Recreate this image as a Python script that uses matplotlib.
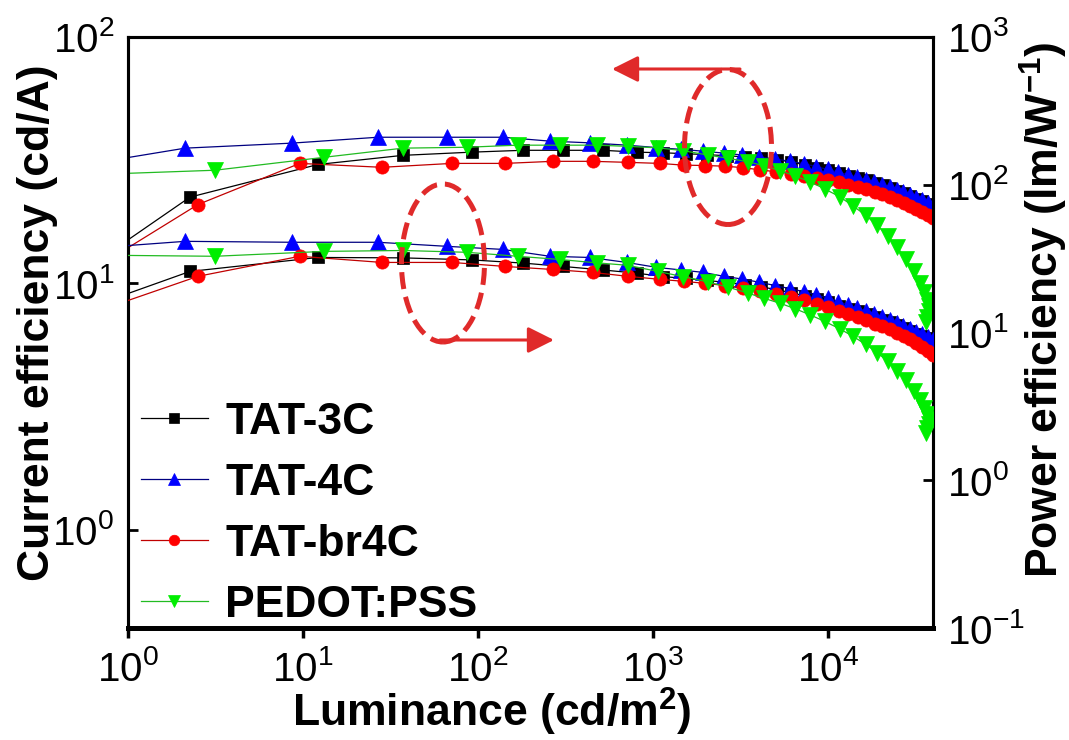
"""
Current / power efficiency vs luminance for the four hole-transport layers.

Outputs:
  out.png
"""

import matplotlib
matplotlib.use("Agg")
import matplotlib.pyplot as plt
from matplotlib.patches import Ellipse, FancyArrowPatch

plt.rcParams["font.family"] = ["Liberation Sans", "DejaVu Sans"]
plt.rcParams["mathtext.fontset"] = "custom"
plt.rcParams["mathtext.rm"] = "Liberation Sans"
plt.rcParams["mathtext.bf"] = "Liberation Sans:bold"

# ---- data -----------------------------------------------------------------
LABELS = ["TAT-3C", "TAT-4C", "TAT-br4C", "PEDOT:PSS"]

# TAT-3C
L_3C = [0.5, 2.26, 12.2, 37.3, 92, 181, 306, 518, 811, 1150, 1550, 2050, 2650, 3350,
        4150, 5100, 6200, 7400, 8700, 10100, 11600, 13200, 14900, 16700, 18600, 20600,
        22700, 24900, 27200, 29600, 32100, 34700, 37400, 40200]
CE_3C = [10.7, 22.4, 30.4, 33.1, 34.1, 34.7, 34.7, 34.7, 34.1, 33.9, 33.6, 33.3, 33.0, 32.6,
         32.2, 31.8, 31.1, 30.3, 29.5, 28.8, 28.1, 27.4, 26.8, 26.2, 25.6, 25.0,
         24.4, 23.8, 23.2, 22.7, 22.1, 21.6, 21.1, 20.6]
PE_3C = [13.7, 25.9, 32.2, 32.0, 31.0, 29.5, 28.0, 26.5, 25.2, 23.9, 23.2, 22.5, 21.8, 21.1,
         20.4, 19.5, 18.6, 17.7, 16.8, 16.0, 15.2, 14.5, 13.9, 13.3, 12.8, 12.2,
         11.7, 11.2, 10.7, 10.2, 9.8, 9.4, 9.0, 8.6]

# TAT-4C
L_4C = [0.5, 2.12, 8.65, 26.8, 66.5, 139, 258, 436, 710, 1050, 1450, 1950, 2550, 3250,
        4050, 5000, 6100, 7300, 8600, 10000, 11500, 13100, 14800, 16600, 18500, 20500,
        22600, 24800, 27100, 29500, 32000, 34600, 37300, 40100]
CE_4C = [29.9, 35.4, 37.1, 39.2, 39.2, 39.2, 37.8, 37.2, 36.4, 35.6, 35.0, 34.4, 33.8, 33.2,
         32.6, 32.0, 31.3, 30.6, 29.8, 29.0, 28.3, 27.6, 27.0, 26.4, 25.8, 25.2,
         24.6, 24.0, 23.4, 22.9, 22.3, 21.8, 21.3, 20.8]
PE_4C = [36.5, 41.4, 40.8, 40.8, 38.3, 36.5, 32.8, 32.2, 29.8, 27.6, 26.5, 25.5, 24.0, 23.0,
         21.9, 20.8, 19.8, 18.9, 18.0, 17.1, 16.2, 15.4, 14.6, 13.9, 13.3, 12.7,
         12.1, 11.6, 11.1, 10.6, 10.1, 9.7, 9.3, 8.9]

# TAT-br4C
L_BR = [0.5, 2.51, 9.6, 28.3, 71, 143, 268, 454, 720, 1097, 1500, 2000, 2600, 3300,
        4100, 5050, 6150, 7350, 8650, 10050, 11550, 13150, 14850, 16650, 18550, 20550,
        22650, 24850, 27150, 29550, 32050, 34650, 37350, 40150]
CE_BR = [10.3, 20.9, 30.7, 29.6, 30.7, 30.7, 31.3, 31.3, 31.0, 30.7, 30.2, 30.1, 29.9, 29.5,
         28.9, 28.4, 27.9, 27.4, 26.9, 26.4, 25.8, 25.2, 24.7, 24.2, 23.6, 23.0,
         22.4, 21.8, 21.3, 20.7, 20.1, 19.5, 19.0, 18.5]
PE_BR = [12.4, 24.0, 32.8, 29.8, 29.8, 28.0, 26.7, 25.5, 24.0, 22.9, 22.2, 21.5, 20.8, 20.0,
         19.1, 18.3, 17.4, 16.5, 15.6, 14.8, 14.0, 13.3, 12.7, 12.1, 11.5, 11.0,
         10.5, 10.0, 9.5, 9.0, 8.5, 8.0, 7.5, 7.0]

# PEDOT:PSS
L_PD = [0.5, 3.14, 13.2, 37.3, 86.5, 169, 294, 479, 720, 1068, 1484, 2061, 2683, 3490,
        4350, 5320, 6500, 7890, 9600, 11700, 14000, 16500, 19200, 22000, 25000, 28000,
        31000, 33500, 35500, 37000, 37800, 37800, 37200, 36300]
CE_PD = [27.5, 28.8, 32.5, 35.4, 35.7, 36.4, 36.4, 36.4, 36.0, 35.5, 34.6, 33.2, 32.2, 31.2,
         30.0, 28.7, 27.3, 25.9, 24.2, 22.5, 20.6, 18.9, 17.2, 15.6, 14.0, 12.6,
         11.2, 10.0, 9.2, 8.6, 8.1, 7.7, 7.3, 7.0]
PE_PD = [33.5, 32.8, 35.4, 35.9, 34.9, 32.8, 31.2, 29.6, 28.5, 25.9, 23.9, 22.0, 20.3, 18.5,
         17.0, 15.8, 14.5, 13.2, 11.9, 10.6, 9.4, 8.3, 7.3, 6.4, 5.5, 4.8,
         4.0, 3.5, 3.1, 2.8, 2.6, 2.4, 2.25, 2.1]

COLORS = ["#000000", "#0000ff", "#ff0000", "#00ee00"]
LINE_COLORS = ["#000000", "#000080", "#c00000", "#22bb22"]
MARKERS = ["s", "^", "o", "v"]
MSIZES = [9, 11, 9.5, 11]
RED = "#e02a2a"

W, H = 1069, 740


def fx(px):
    return px / W


def fy(py):
    return 1 - py / H


def main():
    fig = plt.figure(figsize=(W / 100, H / 100), dpi=100)
    ax = fig.add_axes([fx(128), fy(628), fx(933 - 128), (628 - 37) / H])
    ax2 = ax.twinx()

    series = [(L_3C, CE_3C, PE_3C), (L_4C, CE_4C, PE_4C),
              (L_BR, CE_BR, PE_BR), (L_PD, CE_PD, PE_PD)]
    order = [2, 1, 0, 3]  # draw green on top, black over red/blue
    handles = {}
    for i in order:
        lum, ce, pe = series[i]
        kw = dict(marker=MARKERS[i], ms=MSIZES[i], mfc=COLORS[i], mec=COLORS[i],
                  mew=0.5, color=LINE_COLORS[i], lw=0.9, clip_on=True)
        h, = ax.plot(lum, ce, label=LABELS[i], zorder=3 + i, **kw)
        ax2.plot(lum, pe, zorder=3 + i, **kw)
        handles[i] = h

    ax.set_xscale("log")
    ax.set_yscale("log")
    ax2.set_yscale("log")
    ax.set_xlim(1, 4e4)
    ax.set_ylim(0.4, 100)
    ax2.set_ylim(0.1, 1000)

    for a in (ax, ax2):
        a.minorticks_off()
        for s in a.spines.values():
            s.set_linewidth(2.2)
        a.spines["bottom"].set_linewidth(3.5)
    ax.tick_params(axis="y", which="major", direction="in", length=7, width=2,
                   labelsize=29, pad=10)
    ax.tick_params(axis="x", which="major", direction="out", length=7, width=2.5,
                   labelsize=29, pad=9)
    ax2.tick_params(axis="y", which="major", direction="in", length=7, width=2,
                    labelsize=29, pad=10)

    ax.set_xlabel(r"Luminance (cd/m$\mathbf{^2}$)", fontsize=32, fontweight="bold")
    ax.set_ylabel("Current efficiency (cd/A)", fontsize=32, fontweight="bold")
    ax2.set_ylabel(r"Power efficiency (lm/W$\mathbf{^{-1}}$)", fontsize=32,
                   fontweight="bold", rotation=90)
    ax.xaxis.set_label_coords(0.452, -0.098)
    ax.yaxis.set_label_coords(-0.087, 0.516)
    ax2.yaxis.set_label_coords(1.106, 0.538)

    leg = ax2.legend([handles[i] for i in range(4)], LABELS, loc="lower left",
                     bbox_to_anchor=(fx(141), fy(626)), bbox_transform=fig.transFigure,
                     frameon=False, borderpad=0, borderaxespad=0, handlelength=1.5,
                     handletextpad=0.4, labelspacing=0.45, markerscale=0.8,
                     prop={"size": 32, "weight": "bold"})
    leg.set_zorder(20)

    # dashed ellipses with arrows pointing at the matching axis
    for cx, cy, w, h in [(728, 147, 87, 155), (443, 263, 83, 158)]:
        fig.add_artist(Ellipse((fx(cx), fy(cy)), w / W, h / H, transform=fig.transFigure,
                               fill=False, ec=RED, lw=3.6, ls=(0, (3.4, 1.6)), zorder=30))
    for (x0, y0), (x1, y1) in [((740, 69), (612, 69)), ((440, 340), (554, 340))]:
        fig.add_artist(FancyArrowPatch((fx(x0), fy(y0)), (fx(x1), fy(y1)),
                                       transform=fig.transFigure,
                                       arrowstyle="-|>,head_length=16,head_width=8",
                                       mutation_scale=1, lw=2.2, color=RED,
                                       shrinkA=0, shrinkB=0, zorder=30))

    fig.savefig("out.png", dpi=100, facecolor="white")
    plt.close(fig)


if __name__ == "__main__":
    main()
